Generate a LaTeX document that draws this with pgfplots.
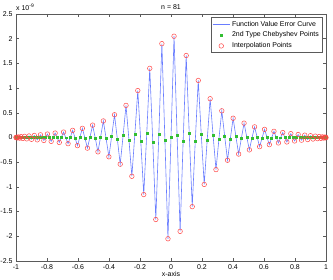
\documentclass[border=0pt]{standalone}
\usepackage{pgfplots}
\pgfplotsset{compat=1.18}
\usepackage{pgfplotstable}
\usepackage{fontspec}
\setmainfont{Liberation Sans}
\definecolor{mblue}{RGB}{105,125,255}
\definecolor{mgreen}{RGB}{50,190,50}
\definecolor{mred}{RGB}{255,70,70}
\definecolor{frame}{RGB}{90,90,90}
\pgfplotstableread{
x y
-1 0
-0.999807 0.002
-0.999229 0
-0.998266 -0.004
-0.996917 0
-0.995185 0.006
-0.993068 0
-0.990569 -0.008
-0.987688 0
-0.984428 0.010
-0.980785 0
-0.976765 -0.013
-0.972370 0.001
-0.967599 0.016
-0.962455 -0.001
-0.956940 -0.019
-0.951057 0.001
-0.944806 0.023
-0.938191 -0.001
-0.931215 -0.027
-0.923880 0.001
-0.916188 0.031
-0.908143 -0.001
-0.899748 -0.036
-0.891007 0.001
-0.881921 0.041
-0.872496 -0.002
-0.862734 -0.047
-0.852640 0.002
-0.842217 0.054
-0.831470 -0.002
-0.820401 -0.06
-0.809017 0.002
-0.797321 0.07
-0.785317 -0.003
-0.773010 -0.078
-0.760406 0.003
-0.747508 0.09
-0.734323 -0.003
-0.720854 -0.10
-0.707107 0.004
-0.693087 0.11
-0.678801 -0.004
-0.664252 -0.125
-0.649448 0.005
-0.634393 0.145
-0.619094 -0.006
-0.603556 -0.165
-0.587785 0.007
-0.571788 0.185
-0.555570 -0.008
-0.539138 -0.215
-0.522499 0.01
-0.505657 0.25
-0.488621 -0.012
-0.471397 -0.29
-0.453990 0.016
-0.436409 0.335
-0.418660 -0.02
-0.400749 -0.39
-0.382683 0.028
-0.364471 0.46
-0.346117 -0.033
-0.327630 -0.54
-0.309017 0.037
-0.290285 0.65
-0.271440 -0.045
-0.252492 -0.785
-0.233445 0.057
-0.214309 0.95
-0.195090 -0.068
-0.175796 -1.155
-0.156434 0.08
-0.137012 1.40
-0.117537 -0.09
-0.098017 -1.66
-0.078459 0.07
-0.058871 1.90
-0.039260 -0.05
-0.019634 -2.05
0 0
0.019634 2.05
0.039260 0.05
0.058871 -1.90
0.078459 -0.07
0.098017 1.66
0.117537 0.09
0.137012 -1.40
0.156434 -0.08
0.175796 1.155
0.195090 0.068
0.214309 -0.95
0.233445 -0.057
0.252492 0.785
0.271440 0.045
0.290285 -0.65
0.309017 -0.037
0.327630 0.54
0.346117 0.033
0.364471 -0.46
0.382683 -0.028
0.400749 0.39
0.418660 0.02
0.436409 -0.335
0.453990 -0.016
0.471397 0.29
0.488621 0.012
0.505657 -0.25
0.522499 -0.01
0.539138 0.215
0.555570 0.008
0.571788 -0.185
0.587785 -0.007
0.603556 0.165
0.619094 0.006
0.634393 -0.145
0.649448 -0.005
0.664252 0.125
0.678801 0.004
0.693087 -0.11
0.707107 -0.004
0.720854 0.10
0.734323 0.003
0.747508 -0.09
0.760406 -0.003
0.773010 0.078
0.785317 0.003
0.797321 -0.07
0.809017 -0.002
0.820401 0.06
0.831470 0.002
0.842217 -0.054
0.852640 -0.002
0.862734 0.047
0.872496 0.002
0.881921 -0.041
0.891007 -0.001
0.899748 0.036
0.908143 0.001
0.916188 -0.031
0.923880 -0.001
0.931215 0.027
0.938191 0.001
0.944806 -0.023
0.951057 -0.001
0.956940 0.019
0.962455 0.001
0.967599 -0.016
0.972370 -0.001
0.976765 0.013
0.980785 0
0.984428 -0.010
0.987688 0
0.990569 0.008
0.993068 0
0.995185 -0.006
0.996917 0
0.998266 0.004
0.999229 0
0.999807 -0.002
1 0
}\errdata
\begin{document}
\begin{tikzpicture}
\path[use as bounding box] (0,0) rectangle (333bp,280bp);
\begin{axis}[
  at={(16bp,19bp)}, anchor=south west,
  width=310bp, height=247bp, scale only axis,
  xmin=-1, xmax=1, ymin=-2.5, ymax=2.5,
  xtick={-1,-0.8,-0.6,-0.4,-0.2,0,0.2,0.4,0.6,0.8,1},
  xticklabels={-1,-0.8,-0.6,-0.4,-0.2,0,0.2,0.4,0.6,0.8,1},
  ytick={-2.5,-2,-1.5,-1,-0.5,0,0.5,1,1.5,2,2.5},
  yticklabels={-2.5,-2,-1.5,-1,-0.5,0,0.5,1,1.5,2,2.5},
  tick align=inside, major tick length=3bp,
  tick style={frame, line width=0.4pt},
  axis line style={frame, line width=0.5pt},
  ticklabel style={font=\fontsize{7}{8}\selectfont},
  title={n = 81},
  title style={font=\fontsize{7}{8}\selectfont, at={(0.5,1)}, anchor=base, yshift=-1.5bp},
  xlabel={x-axis},
  xlabel style={font=\fontsize{7}{8}\selectfont, at={(0.5,0)}, anchor=base, yshift=-15bp},
  clip=false,
  legend cell align=left,
  legend style={at={(0.989,0.9866)}, anchor=north east, draw=frame,
    font=\fontsize{7}{8}\selectfont, inner sep=1.5pt, row sep=0.3pt},
]
\addplot[mblue, line width=0.6pt, mark=none] table[x=x,y=y] {\errdata};
\addlegendentry{Function Value Error Curve}
\addplot[only marks, mark=square*, mark size=1.0pt, color=mgreen,
  restrict expr to domain={mod(\coordindex,2)}{-0.5:0.5}] table[x=x,y=y] {\errdata};
\addlegendentry{2nd Type Chebyshev Points}
\addplot[only marks, mark=o, mark size=2.3pt, color=mred, line width=0.5pt,
  restrict expr to domain={mod(\coordindex,2)}{0.5:1.5}] table[x=x,y=y] {\errdata};
\addlegendentry{Interpolation Points}
\node[anchor=base west, inner sep=0, font=\fontsize{7}{8}\selectfont, yshift=3bp]
  at (rel axis cs:0,1) {x 10\textsuperscript{-9}};
\end{axis}
\end{tikzpicture}
\end{document}
